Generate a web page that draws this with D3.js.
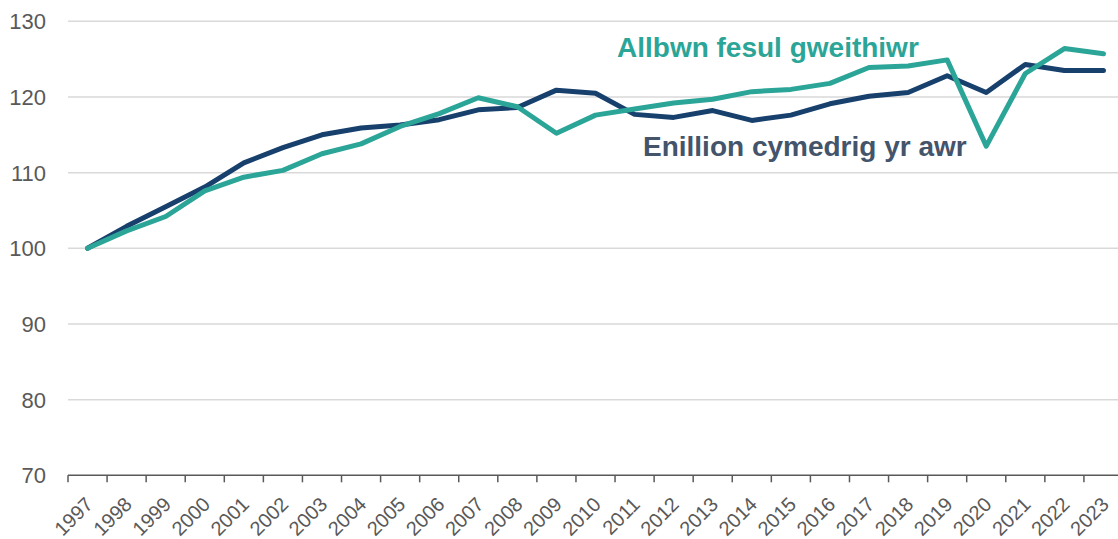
<!DOCTYPE html>
<html>
<head>
<meta charset="utf-8">
<script src="https://cdn.jsdelivr.net/npm/d3@7"></script>
<style>
  html, body { margin: 0; padding: 0; background: #ffffff; }
  svg { display: block; }
</style>
</head>
<body>
<script>
const years = ["1997","1998","1999","2000","2001","2002","2003","2004","2005","2006","2007","2008","2009","2010","2011","2012","2013","2014","2015","2016","2017","2018","2019","2020","2021","2022","2023"];
const outputPerWorker = [100.0,102.3,104.2,107.6,109.4,110.3,112.5,113.8,116.1,117.8,119.9,118.7,115.2,117.6,118.4,119.2,119.7,120.7,121.0,121.8,123.9,124.1,124.9,113.5,123.1,126.4,125.7];
const hourlyEarnings = [100.0,102.9,105.5,108.1,111.3,113.3,115.0,115.9,116.3,117.0,118.3,118.6,120.9,120.5,117.7,117.3,118.2,116.9,117.6,119.1,120.1,120.6,122.8,120.6,124.3,123.5,123.5];
const yTicks = [70,80,90,100,110,120,130];
const seriesLabels = ["Allbwn fesul gweithiwr", "Enillion cymedrig yr awr"];

const W = 1118, H = 539;
const plotLeft = 68, plotRight = 1123, plotTop = 21.3, plotBottom = 475.3;

const svg = d3.select("body").append("svg").attr("width", W).attr("height", H);

const x = d3.scaleBand().domain(years).range([plotLeft, plotRight]);
const y = d3.scaleLinear().domain([70,130]).range([plotBottom, plotTop]);

// gridlines
svg.append("g").selectAll("line").data(yTicks.filter(d => d > 70)).join("line")
  .attr("x1", plotLeft).attr("x2", W)
  .attr("y1", d => y(d)).attr("y2", d => y(d))
  .attr("stroke", "#d9d9d9").attr("stroke-width", 1.5);

// y labels
svg.append("g").selectAll("text").data(yTicks).join("text")
  .attr("x", 46).attr("y", d => y(d)).attr("dy", "0.36em")
  .attr("text-anchor", "end")
  .attr("font-family", "Liberation Sans, Arial, sans-serif")
  .attr("font-size", 22).attr("fill", "#595959")
  .text(d => d);

// x axis
const gx = svg.append("g").attr("transform", `translate(0,${plotBottom})`);
gx.append("line").attr("x1", plotLeft).attr("x2", W).attr("y1", 0).attr("y2", 0)
  .attr("stroke", "#595959").attr("stroke-width", 1.5);
const tickPos = years.map(d => x(d)).concat([x(years[years.length-1]) + x.bandwidth()]);
gx.selectAll("line.tk").data(tickPos).join("line").attr("class","tk")
  .attr("x1", d => d).attr("x2", d => d).attr("y1", 0).attr("y2", 7)
  .attr("stroke", "#595959").attr("stroke-width", 1.5);

svg.append("g").selectAll("text").data(years).join("text")
  .attr("transform", d => `translate(${x(d) + x.bandwidth()/2 + 1.5},${500.5}) rotate(-45)`)
  .attr("dy", "0.36em")
  .attr("text-anchor", "end")
  .attr("font-family", "Liberation Sans, Arial, sans-serif")
  .attr("font-size", 20).attr("fill", "#595959")
  .text(d => d);

const line = d3.line().x((d,i) => x(years[i]) + x.bandwidth()/2).y(d => y(d));

svg.append("path").datum(hourlyEarnings)
  .attr("d", line).attr("fill", "none")
  .attr("stroke", "#17406d").attr("stroke-width", 5)
  .attr("stroke-linejoin", "round").attr("stroke-linecap", "round");

svg.append("path").datum(outputPerWorker)
  .attr("d", line).attr("fill", "none")
  .attr("stroke", "#2ba597").attr("stroke-width", 5)
  .attr("stroke-linejoin", "round").attr("stroke-linecap", "round");

svg.append("text").attr("x", 617).attr("y", 57)
  .attr("font-family", "Liberation Sans, Arial, sans-serif")
  .attr("font-weight", "bold").attr("font-size", 28).attr("fill", "#2ba597")
  .text(seriesLabels[0]);

svg.append("text").attr("x", 643).attr("y", 156)
  .attr("font-family", "Liberation Sans, Arial, sans-serif")
  .attr("font-weight", "bold").attr("font-size", 28).attr("fill", "#44546a")
  .text(seriesLabels[1]);
</script>
</body>
</html>
